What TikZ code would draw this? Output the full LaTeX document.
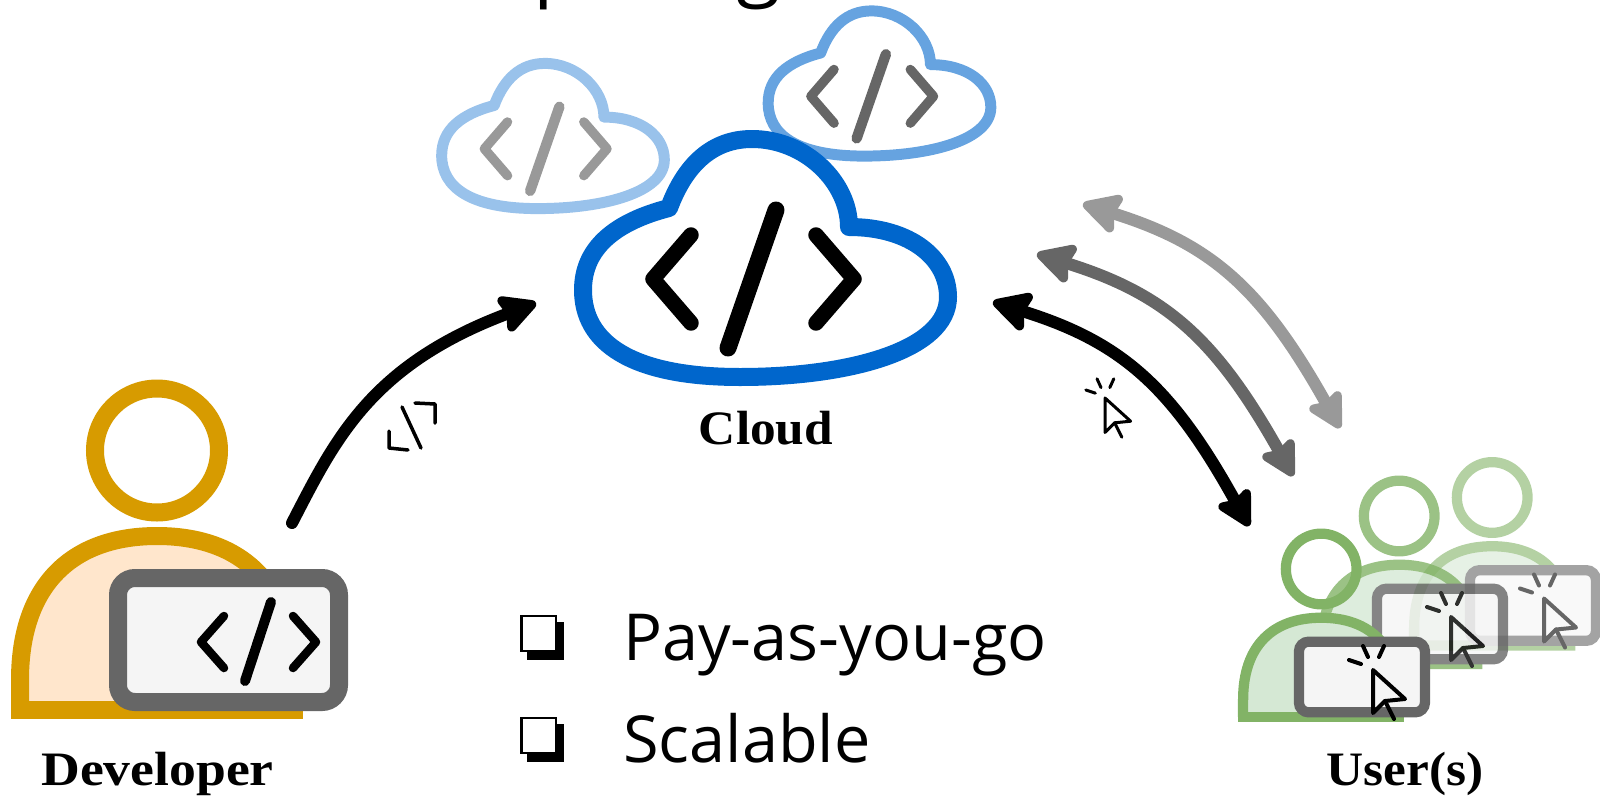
\documentclass[tikz,border=0pt]{standalone}
\usepackage{fontspec}
\setmainfont{Open Sans}
\newfontfamily\labfont[FakeStretch=1.07]{Liberation Serif}
\usetikzlibrary{arrows.meta,calc}
\definecolor{cloudblue}{HTML}{0066CC}
\definecolor{devline}{HTML}{D79B00}
\definecolor{devfill}{HTML}{FFE6CC}
\definecolor{userline}{HTML}{82B366}
\definecolor{userfill}{HTML}{D5E8D4}
\definecolor{screenline}{HTML}{666666}
\definecolor{screenfill}{HTML}{F5F5F5}
\definecolor{midgrey}{HTML}{666666}
\definecolor{lightgrey}{HTML}{999999}
\tikzset{
  labeltext/.style={font=\labfont\bfseries\fontsize{48}{56}\selectfont,inner sep=0pt,anchor=base},
  bullettext/.style={font=\fontsize{64.8}{72}\selectfont,inner sep=0pt,anchor=base west},
  glyphline/.style={line cap=round,line join=round},
  flow/.style={line width=12pt,draw=#1,line cap=round,
    {Stealth[length=44pt,width=46pt,inset=6pt,round,line width=9pt,sep=0pt]}-{Stealth[length=41pt,width=43pt,inset=6pt,round,line width=9pt,sep=0pt]}},
  oneway/.style={line width=12pt,line cap=round,
    -{Stealth[length=43pt,width=44pt,inset=6pt,round,line width=9pt]}},
}
% cloud with </> inside; main cloud centre 765.5,258
\newcommand{\cloudicon}[6]{%
 \begin{scope}[shift={(#1,#2)},scale=#3,shift={(-765.5,-258)}]
  \draw[line width=#3*18pt,draw=#4,opacity=#5,line join=round]
   (669,208) .. controls (685,165) and (712,139) .. (752,139)
   .. controls (805,139) and (849,182) .. (849,227)
   .. controls (910,227) and (948,258) .. (948,297)
   .. controls (948,350) and (850,377) .. (740,377)
   .. controls (630,377) and (583,342) .. (583,290)
   .. controls (583,248) and (615,222) .. (669,208) -- cycle;
  \draw[glyphline,line width=#3*15.5pt,draw=#6] (691,235) -- (653,279) -- (691,323);
  \draw[glyphline,line width=#3*15.5pt,draw=#6] (816,235) -- (854,279) -- (816,323);
  \draw[glyphline,line width=#3*17pt,draw=#6] (776,210) -- (728,348);
 \end{scope}}
% mouse pointer with click marks, coordinates relative to its tip
\newcommand{\cursoricon}[4]{%
 \begin{scope}[shift={(#1,#2)},scale=#3]
  \draw[glyphline,line width=#4] (0,0) -- (32,29) -- (12,31) -- (0,43) -- cycle;
  \draw[glyphline,line width=#4] (12,31) -- (21,49);
  \draw[glyphline,line width=#4] (-24,-10) -- (-12,-6);
  \draw[glyphline,line width=#4] (-10,-24) -- (-5,-13);
  \draw[glyphline,line width=#4] (11,-24) -- (6,-13);
 \end{scope}}
% person with a laptop; drawn in the developer's coordinates
\newcommand{\personicon}[5]{%
 \begin{scope}[shift={(#1,#2)},scale=#3]
  \draw[line width=#3*18pt,draw=#4] (157,450.5) circle[radius=62];
  \fill[#5] (20,710) -- (20,680) .. controls (20,585) and (72,536) .. (157,536)
     .. controls (242,536) and (294,585) .. (294,680) -- (294,710) -- cycle;
  \draw[line width=#3*18pt,draw=#4,line join=miter] (20,710) -- (20,680) .. controls (20,585) and (72,536) .. (157,536)
     .. controls (242,536) and (294,585) .. (294,680);
  \fill[#4] (11,701) rectangle (303,719);
  \draw[line width=#3*18pt,draw=screenline,fill=screenfill,rounded corners=#3*17pt] (118,578) rectangle (339,702);
 \end{scope}}
\begin{document}
\begin{tikzpicture}[x=1pt,y=-1pt]
\useasboundingbox (0,0) rectangle (1600,798);

% clipped title descenders
\node[font=\fontsize{81}{90}\selectfont,inner sep=0pt,anchor=base west] (titlep) at (533,-9.5) {p};
\node[font=\fontsize{81}{90}\selectfont,inner sep=0pt,anchor=base west] (titleg) at (736,-9.5) {g};

% clouds
\cloudicon{553}{136}{0.61}{cloudblue}{0.4}{lightgrey}
\cloudicon{765.5}{258}{1}{cloudblue}{1}{black}
\cloudicon{879.5}{83.5}{0.61}{cloudblue}{0.6}{midgrey}
\node[labeltext] (cloudlabel) at (766,444) {Cloud};

% developer
\personicon{0}{0}{1}{devline}{devfill}
\draw[glyphline,line width=8.5pt] (224,616) -- (201,642) -- (224,668);
\draw[glyphline,line width=8.5pt] (293,616) -- (316,642) -- (293,668);
\draw[glyphline,line width=10pt] (271,602) -- (245,681);
\node[labeltext,xscale=1.045] (devlabel) at (157.5,785) {Developer};

% users
\begin{scope}[transparency group,opacity=0.6]
 \personicon{1402.7}{240.7}{0.57}{userline}{userfill}
 \cursoricon{1544}{598.5}{1}{4pt}
\end{scope}
\begin{scope}[transparency group,opacity=0.8]
 \personicon{1309.7}{259.2}{0.57}{userline}{userfill}
 \cursoricon{1451}{617}{1}{4pt}
\end{scope}
\personicon{1231.7}{312.2}{0.57}{userline}{userfill}
\cursoricon{1373}{670}{1}{4pt}
\node[labeltext] (userlabel) at (1405,785) {User(s)};

% arrows
\coordinate (devstart) at (292,523);
\coordinate (cloudin) at (536,303);
\draw[oneway] (devstart) .. controls (335,440) and (370,365) .. (cloudin);

\coordinate (cloudA) at (1083,204);
\coordinate (userA) at (1340,428);
\coordinate (cloudB) at (1037,254);
\coordinate (userB) at (1293,476);
\coordinate (cloudC) at (993,302);
\coordinate (userC) at (1249,526);
\draw[flow=lightgrey] (cloudA) .. controls (1212,244) and (1262,289) .. (userA);
\draw[flow=midgrey] (cloudB) .. controls (1166,294) and (1216,339) .. (userB);
\draw[flow=black] (cloudC) .. controls (1122,342) and (1172,387) .. (userC);

% small code mark on the developer arrow
\draw[glyphline,line width=3.5pt] (415,403) -- (435,404) -- (435,423);
\draw[glyphline,line width=3.5pt] (389,431) -- (389,448) -- (408,450);
\draw[glyphline,line width=3.5pt] (402,407) -- (421,448);

% small pointer on the user arrow
\cursoricon{1105}{398}{0.8}{3pt}

% bullets
\foreach \yy/\nm in {0/a,102/b}{
 \fill[black] (527,622+\yy) rectangle (564.3,660+\yy);
 \draw[line width=2.2pt,fill=white] (521.5,616+\yy) rectangle (556,651+\yy);
}
\node[bullettext] (pay) at (623,660) {Pay-as-you-go};
\node[bullettext] (scal) at (623,762) {Scalable};
\end{tikzpicture}
\end{document}
